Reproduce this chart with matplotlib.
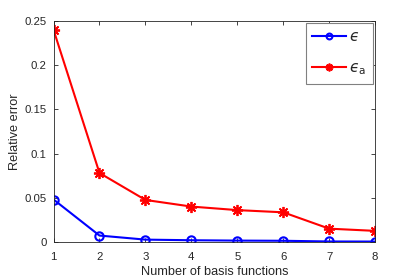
import numpy as np
from matplotlib import pyplot as plt

plt.rcParams['font.family'] = ['Liberation Sans', 'DejaVu Sans']
plt.rcParams['mathtext.fontset'] = 'dejavusans'

# data
n_basis = [1, 2, 3, 4, 5, 6, 7, 8]
eps = [0.048, 0.0072, 0.0026, 0.0019, 0.0015, 0.0013, 0.0005, 0.0004]
eps_a = [0.240, 0.078, 0.0475, 0.040, 0.036, 0.0335, 0.015, 0.0125]

x_ticks = [1, 2, 3, 4, 5, 6, 7, 8]
y_ticks = [0, 0.05, 0.1, 0.15, 0.2, 0.25]
y_labels = ['0', '0.05', '0.1', '0.15', '0.2', '0.25']

axcol = '#262626'

fig = plt.figure(figsize=(4.15, 2.8), dpi=100)
ax = fig.add_axes([0.129, 0.136, 0.775, 0.789])

ax.plot(n_basis, eps, color='blue', linewidth=1.5, marker='o', markersize=6,
        markerfacecolor='none', markeredgewidth=1.5, label='$\u03f5$')
ax.plot(n_basis, eps_a, color='red', linewidth=1.5, marker=(8, 2, 0), markersize=8,
        markeredgewidth=1.3, label='$\u03f5_{\\mathrm{a}}$')

ax.set_xlim(1, 8)
ax.set_ylim(0, 0.25)
ax.set_xticks(x_ticks)
ax.set_yticks(y_ticks, y_labels)
ax.tick_params(direction='in', top=True, right=True, length=3, width=0.6,
               colors=axcol, labelsize=8.2)
ax.tick_params(axis='x', pad=7)
ax.tick_params(axis='y', pad=5)
for sp in ax.spines.values():
    sp.set_linewidth(0.6)
    sp.set_color(axcol)

ax.set_xlabel('Number of basis functions', fontsize=9.2, color=axcol, va='center')
ax.set_ylabel('Relative error', fontsize=9.2, color=axcol, va='center')
ax.xaxis.set_label_coords(0.5, -0.136)
ax.yaxis.set_label_coords(-0.12, 0.5)

leg = ax.legend(loc='upper right', fontsize=11, fancybox=False, framealpha=1,
                edgecolor='#808080', handlelength=2.2, borderaxespad=0.15,
                labelspacing=1.1, borderpad=0.45, handletextpad=0.2, markerscale=0.7)
leg.get_frame().set_linewidth(0.8)
for t in leg.get_texts():
    t.set_color(axcol)

plt.savefig('out.png', dpi=100)
